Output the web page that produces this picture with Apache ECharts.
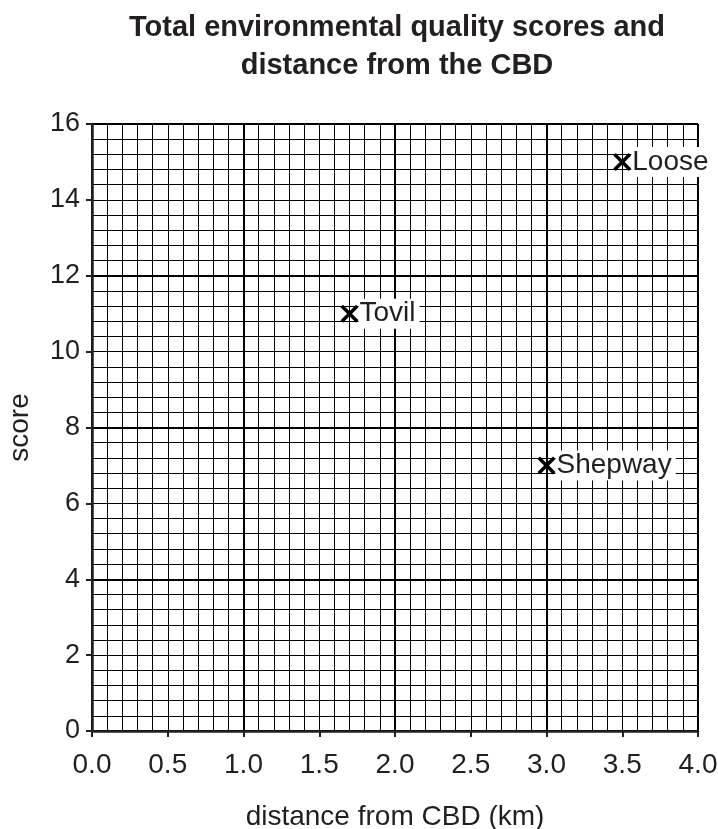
<!DOCTYPE html>
<html>
<head>
<meta charset="utf-8">
<script src="https://cdn.jsdelivr.net/npm/echarts@6/dist/echarts.min.js"></script>
<style>
  html, body { margin: 0; padding: 0; background: #fff; }
  #main { width: 718px; height: 829px; }
</style>
</head>
<body>
<div id="main"></div>
<script>
  // place names and their readings
  var places = ['Loose', 'Tovil', 'Shepway'];
  var distances = [3.5, 1.7, 3.0];
  var scores = [15, 11, 7];

  var titleText = 'Total environmental quality scores and\ndistance from the CBD';
  var xName = 'distance from CBD (km)';
  var yName = 'score';

  var ink = '#231f20';
  var font = '"Liberation Sans", Arial, Helvetica, sans-serif';

  var pts = places.map(function (p, i) {
    return { name: p, value: [distances[i], scores[i]] };
  });

  var myChart = echarts.init(document.getElementById('main'));
  var option = {
    backgroundColor: '#fff',
    animation: false,
    title: {
      text: titleText,
      left: 392,
      top: 4,
      textAlign: 'center',
      textStyle: { fontFamily: font, fontSize: 29, fontWeight: 'bold', color: ink, lineHeight: 38 }
    },
    grid: { left: 92, right: 20, top: 124, bottom: 98, outerBoundsMode: 'none', containLabel: false },
    xAxis: [
      {
        type: 'value', min: 0, max: 4, interval: 0.5,
        name: xName, nameLocation: 'middle', nameGap: 72,
        nameTextStyle: { fontFamily: font, fontSize: 28, color: ink },
        axisLine: { show: true, lineStyle: { color: ink, width: 2.5 } },
        axisTick: { show: true, length: 6, lineStyle: { color: ink, width: 2 } },
        axisLabel: { fontFamily: font, fontSize: 28, color: ink, margin: 20,
          formatter: function (v) { return v.toFixed(1); } },
        splitLine: { show: false }
      },
      {
        type: 'value', min: 0, max: 4, interval: 1, position: 'top',
        axisLine: { show: false }, axisTick: { show: false }, axisLabel: { show: false },
        splitLine: { show: true, lineStyle: { color: '#000', width: 2 } },
        minorTick: { show: false, splitNumber: 10 },
        minorSplitLine: { show: true, lineStyle: { color: '#000', width: 1 } }
      }
    ],
    yAxis: [
      {
        type: 'value', min: 0, max: 16, interval: 2,
        name: yName, nameLocation: 'middle', nameGap: 58, nameRotate: 90,
        nameTextStyle: { fontFamily: font, fontSize: 28, color: ink },
        axisLine: { show: true, lineStyle: { color: ink, width: 2.5 } },
        axisTick: { show: true, length: 6, lineStyle: { color: ink, width: 2 } },
        axisLabel: { fontFamily: font, fontSize: 27, color: ink, margin: 12 },
        splitLine: { show: false }
      },
      {
        type: 'value', min: 0, max: 16, interval: 4, position: 'right',
        axisLine: { show: false }, axisTick: { show: false }, axisLabel: { show: false },
        splitLine: { show: true, lineStyle: { color: '#000', width: 2 } },
        minorTick: { show: false, splitNumber: 10 },
        minorSplitLine: { show: true, lineStyle: { color: '#000', width: 1 } }
      }
    ],
    series: [
      {
        type: 'scatter',
        xAxisIndex: 0, yAxisIndex: 0,
        data: pts,
        symbol: 'path://M0,2.2L2.2,0L8,5.8L13.8,0L16,2.2L10.2,8L16,13.8L13.8,16L8,10.2L2.2,16L0,13.8L5.8,8Z',
        symbolSize: 18,
        itemStyle: { color: '#000', opacity: 1 },
        label: {
          show: true, position: 'right', distance: 0,
          formatter: '{b}',
          fontFamily: font, fontSize: 28, color: ink,
          backgroundColor: '#fff', padding: [2, 4, 0, 1]
        },
        z: 10
      }
    ]
  };
  myChart.setOption(option);
</script>
</body>
</html>
